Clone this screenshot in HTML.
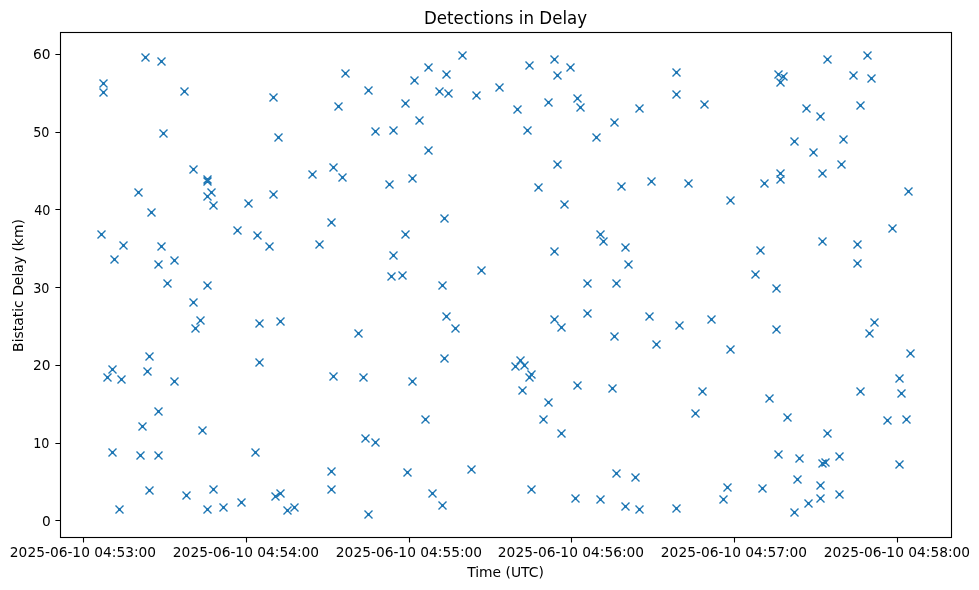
<!DOCTYPE html>
<html lang="en"><head><meta charset="utf-8"><title>Detections in Delay</title>
<style>html,body{margin:0;padding:0;background:#fff;}svg{display:block;}text{font-family:"DejaVu Sans","Liberation Sans",sans-serif;fill:#000;}</style></head><body>
<svg width="979" height="590" viewBox="0 0 979 590">
<rect x="0" y="0" width="979" height="590" fill="#fff"/>
<defs><clipPath id="c"><rect x="60.5" y="32.5" width="891.0" height="505.0"/></clipPath></defs>
<g clip-path="url(#c)"><path fill="none" stroke="#1f77b4" stroke-width="1.389" d="M141.5 53.5L149.5 61.5M141.5 61.5L149.5 53.5M157.5 57.5L165.5 65.5M157.5 65.5L165.5 57.5M99.5 79.5L107.5 87.5M99.5 87.5L107.5 79.5M99.5 88.5L107.5 96.5M99.5 96.5L107.5 88.5M180.5 87.5L188.5 95.5M180.5 95.5L188.5 87.5M159.5 129.5L167.5 137.5M159.5 137.5L167.5 129.5M269.5 93.5L277.5 101.5M269.5 101.5L277.5 93.5M274.5 133.5L282.5 141.5M274.5 141.5L282.5 133.5M341.5 69.5L349.5 77.5M341.5 77.5L349.5 69.5M334.5 102.5L342.5 110.5M334.5 110.5L342.5 102.5M364.5 86.5L372.5 94.5M364.5 94.5L372.5 86.5M371.5 127.5L379.5 135.5M371.5 135.5L379.5 127.5M389.5 126.5L397.5 134.5M389.5 134.5L397.5 126.5M401.5 99.5L409.5 107.5M401.5 107.5L409.5 99.5M410.5 76.5L418.5 84.5M410.5 84.5L418.5 76.5M415.5 116.5L423.5 124.5M415.5 124.5L423.5 116.5M424.5 63.5L432.5 71.5M424.5 71.5L432.5 63.5M458.5 51.5L466.5 59.5M458.5 59.5L466.5 51.5M442.5 70.5L450.5 78.5M442.5 78.5L450.5 70.5M435.5 87.5L443.5 95.5M435.5 95.5L443.5 87.5M444.5 89.5L452.5 97.5M444.5 97.5L452.5 89.5M472.5 91.5L480.5 99.5M472.5 99.5L480.5 91.5M495.5 83.5L503.5 91.5M495.5 91.5L503.5 83.5M513.5 105.5L521.5 113.5M513.5 113.5L521.5 105.5M523.5 126.5L531.5 134.5M523.5 134.5L531.5 126.5M525.5 61.5L533.5 69.5M525.5 69.5L533.5 61.5M544.5 98.5L552.5 106.5M544.5 106.5L552.5 98.5M550.5 55.5L558.5 63.5M550.5 63.5L558.5 55.5M553.5 71.5L561.5 79.5M553.5 79.5L561.5 71.5M566.5 63.5L574.5 71.5M566.5 71.5L574.5 63.5M573.5 94.5L581.5 102.5M573.5 102.5L581.5 94.5M576.5 103.5L584.5 111.5M576.5 111.5L584.5 103.5M592.5 133.5L600.5 141.5M592.5 141.5L600.5 133.5M610.5 118.5L618.5 126.5M610.5 126.5L618.5 118.5M635.5 104.5L643.5 112.5M635.5 112.5L643.5 104.5M672.5 68.5L680.5 76.5M672.5 76.5L680.5 68.5M672.5 90.5L680.5 98.5M672.5 98.5L680.5 90.5M700.5 100.5L708.5 108.5M700.5 108.5L708.5 100.5M774.5 70.5L782.5 78.5M774.5 78.5L782.5 70.5M779.5 72.5L787.5 80.5M779.5 80.5L787.5 72.5M776.5 78.5L784.5 86.5M776.5 86.5L784.5 78.5M823.5 55.5L831.5 63.5M823.5 63.5L831.5 55.5M863.5 51.5L871.5 59.5M863.5 59.5L871.5 51.5M849.5 71.5L857.5 79.5M849.5 79.5L857.5 71.5M867.5 74.5L875.5 82.5M867.5 82.5L875.5 74.5M802.5 104.5L810.5 112.5M802.5 112.5L810.5 104.5M816.5 112.5L824.5 120.5M816.5 120.5L824.5 112.5M856.5 101.5L864.5 109.5M856.5 109.5L864.5 101.5M790.5 137.5L798.5 145.5M790.5 145.5L798.5 137.5M839.5 135.5L847.5 143.5M839.5 143.5L847.5 135.5M189.5 165.5L197.5 173.5M189.5 173.5L197.5 165.5M203.5 175.5L211.5 183.5M203.5 183.5L211.5 175.5M203.5 177.5L211.5 185.5M203.5 185.5L211.5 177.5M207.5 188.5L215.5 196.5M207.5 196.5L215.5 188.5M203.5 192.5L211.5 200.5M203.5 200.5L211.5 192.5M209.5 201.5L217.5 209.5M209.5 209.5L217.5 201.5M134.5 188.5L142.5 196.5M134.5 196.5L142.5 188.5M147.5 208.5L155.5 216.5M147.5 216.5L155.5 208.5M97.5 230.5L105.5 238.5M97.5 238.5L105.5 230.5M119.5 241.5L127.5 249.5M119.5 249.5L127.5 241.5M157.5 242.5L165.5 250.5M157.5 250.5L165.5 242.5M233.5 226.5L241.5 234.5M233.5 234.5L241.5 226.5M244.5 199.5L252.5 207.5M244.5 207.5L252.5 199.5M424.5 146.5L432.5 154.5M424.5 154.5L432.5 146.5M329.5 163.5L337.5 171.5M329.5 171.5L337.5 163.5M308.5 170.5L316.5 178.5M308.5 178.5L316.5 170.5M338.5 173.5L346.5 181.5M338.5 181.5L346.5 173.5M385.5 180.5L393.5 188.5M385.5 188.5L393.5 180.5M408.5 174.5L416.5 182.5M408.5 182.5L416.5 174.5M269.5 190.5L277.5 198.5M269.5 198.5L277.5 190.5M253.5 231.5L261.5 239.5M253.5 239.5L261.5 231.5M265.5 242.5L273.5 250.5M265.5 250.5L273.5 242.5M327.5 218.5L335.5 226.5M327.5 226.5L335.5 218.5M315.5 240.5L323.5 248.5M315.5 248.5L323.5 240.5M401.5 230.5L409.5 238.5M401.5 238.5L409.5 230.5M553.5 160.5L561.5 168.5M553.5 168.5L561.5 160.5M534.5 183.5L542.5 191.5M534.5 191.5L542.5 183.5M560.5 200.5L568.5 208.5M560.5 208.5L568.5 200.5M440.5 214.5L448.5 222.5M440.5 222.5L448.5 214.5M596.5 230.5L604.5 238.5M596.5 238.5L604.5 230.5M599.5 237.5L607.5 245.5M599.5 245.5L607.5 237.5M617.5 182.5L625.5 190.5M617.5 190.5L625.5 182.5M647.5 177.5L655.5 185.5M647.5 185.5L655.5 177.5M684.5 179.5L692.5 187.5M684.5 187.5L692.5 179.5M726.5 196.5L734.5 204.5M726.5 204.5L734.5 196.5M760.5 179.5L768.5 187.5M760.5 187.5L768.5 179.5M776.5 169.5L784.5 177.5M776.5 177.5L784.5 169.5M776.5 175.5L784.5 183.5M776.5 183.5L784.5 175.5M621.5 243.5L629.5 251.5M621.5 251.5L629.5 243.5M756.5 246.5L764.5 254.5M756.5 254.5L764.5 246.5M809.5 148.5L817.5 156.5M809.5 156.5L817.5 148.5M837.5 160.5L845.5 168.5M837.5 168.5L845.5 160.5M818.5 169.5L826.5 177.5M818.5 177.5L826.5 169.5M904.5 187.5L912.5 195.5M904.5 195.5L912.5 187.5M888.5 224.5L896.5 232.5M888.5 232.5L896.5 224.5M818.5 237.5L826.5 245.5M818.5 245.5L826.5 237.5M853.5 240.5L861.5 248.5M853.5 248.5L861.5 240.5M110.5 255.5L118.5 263.5M110.5 263.5L118.5 255.5M154.5 260.5L162.5 268.5M154.5 268.5L162.5 260.5M170.5 256.5L178.5 264.5M170.5 264.5L178.5 256.5M163.5 279.5L171.5 287.5M163.5 287.5L171.5 279.5M203.5 281.5L211.5 289.5M203.5 289.5L211.5 281.5M189.5 298.5L197.5 306.5M189.5 306.5L197.5 298.5M196.5 316.5L204.5 324.5M196.5 324.5L204.5 316.5M191.5 324.5L199.5 332.5M191.5 332.5L199.5 324.5M389.5 251.5L397.5 259.5M389.5 259.5L397.5 251.5M387.5 272.5L395.5 280.5M387.5 280.5L395.5 272.5M398.5 271.5L406.5 279.5M398.5 279.5L406.5 271.5M255.5 319.5L263.5 327.5M255.5 327.5L263.5 319.5M276.5 317.5L284.5 325.5M276.5 325.5L284.5 317.5M354.5 329.5L362.5 337.5M354.5 337.5L362.5 329.5M550.5 247.5L558.5 255.5M550.5 255.5L558.5 247.5M477.5 266.5L485.5 274.5M477.5 274.5L485.5 266.5M438.5 281.5L446.5 289.5M438.5 289.5L446.5 281.5M583.5 279.5L591.5 287.5M583.5 287.5L591.5 279.5M442.5 312.5L450.5 320.5M442.5 320.5L450.5 312.5M451.5 324.5L459.5 332.5M451.5 332.5L459.5 324.5M550.5 315.5L558.5 323.5M550.5 323.5L558.5 315.5M557.5 323.5L565.5 331.5M557.5 331.5L565.5 323.5M583.5 309.5L591.5 317.5M583.5 317.5L591.5 309.5M624.5 260.5L632.5 268.5M624.5 268.5L632.5 260.5M612.5 279.5L620.5 287.5M612.5 287.5L620.5 279.5M751.5 270.5L759.5 278.5M751.5 278.5L759.5 270.5M772.5 284.5L780.5 292.5M772.5 292.5L780.5 284.5M645.5 312.5L653.5 320.5M645.5 320.5L653.5 312.5M675.5 321.5L683.5 329.5M675.5 329.5L683.5 321.5M707.5 315.5L715.5 323.5M707.5 323.5L715.5 315.5M610.5 332.5L618.5 340.5M610.5 340.5L618.5 332.5M652.5 340.5L660.5 348.5M652.5 348.5L660.5 340.5M726.5 345.5L734.5 353.5M726.5 353.5L734.5 345.5M772.5 325.5L780.5 333.5M772.5 333.5L780.5 325.5M853.5 259.5L861.5 267.5M853.5 267.5L861.5 259.5M870.5 318.5L878.5 326.5M870.5 326.5L878.5 318.5M865.5 329.5L873.5 337.5M865.5 337.5L873.5 329.5M906.5 349.5L914.5 357.5M906.5 357.5L914.5 349.5M145.5 352.5L153.5 360.5M145.5 360.5L153.5 352.5M108.5 365.5L116.5 373.5M108.5 373.5L116.5 365.5M103.5 373.5L111.5 381.5M103.5 381.5L111.5 373.5M117.5 375.5L125.5 383.5M117.5 383.5L125.5 375.5M143.5 367.5L151.5 375.5M143.5 375.5L151.5 367.5M170.5 377.5L178.5 385.5M170.5 385.5L178.5 377.5M154.5 407.5L162.5 415.5M154.5 415.5L162.5 407.5M138.5 422.5L146.5 430.5M138.5 430.5L146.5 422.5M198.5 426.5L206.5 434.5M198.5 434.5L206.5 426.5M108.5 448.5L116.5 456.5M108.5 456.5L116.5 448.5M136.5 451.5L144.5 459.5M136.5 459.5L144.5 451.5M154.5 451.5L162.5 459.5M154.5 459.5L162.5 451.5M255.5 358.5L263.5 366.5M255.5 366.5L263.5 358.5M329.5 372.5L337.5 380.5M329.5 380.5L337.5 372.5M359.5 373.5L367.5 381.5M359.5 381.5L367.5 373.5M408.5 377.5L416.5 385.5M408.5 385.5L416.5 377.5M421.5 415.5L429.5 423.5M421.5 423.5L429.5 415.5M361.5 434.5L369.5 442.5M361.5 442.5L369.5 434.5M371.5 438.5L379.5 446.5M371.5 446.5L379.5 438.5M251.5 448.5L259.5 456.5M251.5 456.5L259.5 448.5M440.5 354.5L448.5 362.5M440.5 362.5L448.5 354.5M516.5 356.5L524.5 364.5M516.5 364.5L524.5 356.5M511.5 362.5L519.5 370.5M511.5 370.5L519.5 362.5M520.5 361.5L528.5 369.5M520.5 369.5L528.5 361.5M527.5 370.5L535.5 378.5M527.5 378.5L535.5 370.5M525.5 373.5L533.5 381.5M525.5 381.5L533.5 373.5M518.5 386.5L526.5 394.5M518.5 394.5L526.5 386.5M544.5 398.5L552.5 406.5M544.5 406.5L552.5 398.5M539.5 415.5L547.5 423.5M539.5 423.5L547.5 415.5M557.5 429.5L565.5 437.5M557.5 437.5L565.5 429.5M573.5 381.5L581.5 389.5M573.5 389.5L581.5 381.5M608.5 384.5L616.5 392.5M608.5 392.5L616.5 384.5M698.5 387.5L706.5 395.5M698.5 395.5L706.5 387.5M691.5 409.5L699.5 417.5M691.5 417.5L699.5 409.5M765.5 394.5L773.5 402.5M765.5 402.5L773.5 394.5M783.5 413.5L791.5 421.5M783.5 421.5L791.5 413.5M774.5 450.5L782.5 458.5M774.5 458.5L782.5 450.5M895.5 374.5L903.5 382.5M895.5 382.5L903.5 374.5M897.5 389.5L905.5 397.5M897.5 397.5L905.5 389.5M856.5 387.5L864.5 395.5M856.5 395.5L864.5 387.5M883.5 416.5L891.5 424.5M883.5 424.5L891.5 416.5M902.5 415.5L910.5 423.5M902.5 423.5L910.5 415.5M823.5 429.5L831.5 437.5M823.5 437.5L831.5 429.5M145.5 486.5L153.5 494.5M145.5 494.5L153.5 486.5M115.5 505.5L123.5 513.5M115.5 513.5L123.5 505.5M182.5 491.5L190.5 499.5M182.5 499.5L190.5 491.5M209.5 485.5L217.5 493.5M209.5 493.5L217.5 485.5M203.5 505.5L211.5 513.5M203.5 513.5L211.5 505.5M219.5 503.5L227.5 511.5M219.5 511.5L227.5 503.5M237.5 498.5L245.5 506.5M237.5 506.5L245.5 498.5M271.5 492.5L279.5 500.5M271.5 500.5L279.5 492.5M276.5 489.5L284.5 497.5M276.5 497.5L284.5 489.5M283.5 506.5L291.5 514.5M283.5 514.5L291.5 506.5M290.5 503.5L298.5 511.5M290.5 511.5L298.5 503.5M327.5 467.5L335.5 475.5M327.5 475.5L335.5 467.5M327.5 485.5L335.5 493.5M327.5 493.5L335.5 485.5M364.5 510.5L372.5 518.5M364.5 518.5L372.5 510.5M403.5 468.5L411.5 476.5M403.5 476.5L411.5 468.5M428.5 489.5L436.5 497.5M428.5 497.5L436.5 489.5M438.5 501.5L446.5 509.5M438.5 509.5L446.5 501.5M467.5 465.5L475.5 473.5M467.5 473.5L475.5 465.5M527.5 485.5L535.5 493.5M527.5 493.5L535.5 485.5M571.5 494.5L579.5 502.5M571.5 502.5L579.5 494.5M596.5 495.5L604.5 503.5M596.5 503.5L604.5 495.5M612.5 469.5L620.5 477.5M612.5 477.5L620.5 469.5M631.5 473.5L639.5 481.5M631.5 481.5L639.5 473.5M621.5 502.5L629.5 510.5M621.5 510.5L629.5 502.5M635.5 505.5L643.5 513.5M635.5 513.5L643.5 505.5M672.5 504.5L680.5 512.5M672.5 512.5L680.5 504.5M719.5 495.5L727.5 503.5M719.5 503.5L727.5 495.5M723.5 483.5L731.5 491.5M723.5 491.5L731.5 483.5M758.5 484.5L766.5 492.5M758.5 492.5L766.5 484.5M795.5 454.5L803.5 462.5M795.5 462.5L803.5 454.5M835.5 452.5L843.5 460.5M835.5 460.5L843.5 452.5M818.5 459.5L826.5 467.5M818.5 467.5L826.5 459.5M821.5 458.5L829.5 466.5M821.5 466.5L829.5 458.5M895.5 460.5L903.5 468.5M895.5 468.5L903.5 460.5M793.5 475.5L801.5 483.5M793.5 483.5L801.5 475.5M816.5 481.5L824.5 489.5M816.5 489.5L824.5 481.5M816.5 494.5L824.5 502.5M816.5 502.5L824.5 494.5M835.5 490.5L843.5 498.5M835.5 498.5L843.5 490.5M804.5 499.5L812.5 507.5M804.5 507.5L812.5 499.5M790.5 508.5L798.5 516.5M790.5 516.5L798.5 508.5"/><path fill="#1f77b4" stroke="none" d="M144 56h3v3h-3zM160 60h3v3h-3zM102 82h3v3h-3zM102 91h3v3h-3zM183 90h3v3h-3zM162 132h3v3h-3zM272 96h3v3h-3zM277 136h3v3h-3zM344 72h3v3h-3zM337 105h3v3h-3zM367 89h3v3h-3zM374 130h3v3h-3zM392 129h3v3h-3zM404 102h3v3h-3zM413 79h3v3h-3zM418 119h3v3h-3zM427 66h3v3h-3zM461 54h3v3h-3zM445 73h3v3h-3zM438 90h3v3h-3zM447 92h3v3h-3zM475 94h3v3h-3zM498 86h3v3h-3zM516 108h3v3h-3zM526 129h3v3h-3zM528 64h3v3h-3zM547 101h3v3h-3zM553 58h3v3h-3zM556 74h3v3h-3zM569 66h3v3h-3zM576 97h3v3h-3zM579 106h3v3h-3zM595 136h3v3h-3zM613 121h3v3h-3zM638 107h3v3h-3zM675 71h3v3h-3zM675 93h3v3h-3zM703 103h3v3h-3zM777 73h3v3h-3zM782 75h3v3h-3zM779 81h3v3h-3zM826 58h3v3h-3zM866 54h3v3h-3zM852 74h3v3h-3zM870 77h3v3h-3zM805 107h3v3h-3zM819 115h3v3h-3zM859 104h3v3h-3zM793 140h3v3h-3zM842 138h3v3h-3zM192 168h3v3h-3zM206 178h3v3h-3zM206 180h3v3h-3zM210 191h3v3h-3zM206 195h3v3h-3zM212 204h3v3h-3zM137 191h3v3h-3zM150 211h3v3h-3zM100 233h3v3h-3zM122 244h3v3h-3zM160 245h3v3h-3zM236 229h3v3h-3zM247 202h3v3h-3zM427 149h3v3h-3zM332 166h3v3h-3zM311 173h3v3h-3zM341 176h3v3h-3zM388 183h3v3h-3zM411 177h3v3h-3zM272 193h3v3h-3zM256 234h3v3h-3zM268 245h3v3h-3zM330 221h3v3h-3zM318 243h3v3h-3zM404 233h3v3h-3zM556 163h3v3h-3zM537 186h3v3h-3zM563 203h3v3h-3zM443 217h3v3h-3zM599 233h3v3h-3zM602 240h3v3h-3zM620 185h3v3h-3zM650 180h3v3h-3zM687 182h3v3h-3zM729 199h3v3h-3zM763 182h3v3h-3zM779 172h3v3h-3zM779 178h3v3h-3zM624 246h3v3h-3zM759 249h3v3h-3zM812 151h3v3h-3zM840 163h3v3h-3zM821 172h3v3h-3zM907 190h3v3h-3zM891 227h3v3h-3zM821 240h3v3h-3zM856 243h3v3h-3zM113 258h3v3h-3zM157 263h3v3h-3zM173 259h3v3h-3zM166 282h3v3h-3zM206 284h3v3h-3zM192 301h3v3h-3zM199 319h3v3h-3zM194 327h3v3h-3zM392 254h3v3h-3zM390 275h3v3h-3zM401 274h3v3h-3zM258 322h3v3h-3zM279 320h3v3h-3zM357 332h3v3h-3zM553 250h3v3h-3zM480 269h3v3h-3zM441 284h3v3h-3zM586 282h3v3h-3zM445 315h3v3h-3zM454 327h3v3h-3zM553 318h3v3h-3zM560 326h3v3h-3zM586 312h3v3h-3zM627 263h3v3h-3zM615 282h3v3h-3zM754 273h3v3h-3zM775 287h3v3h-3zM648 315h3v3h-3zM678 324h3v3h-3zM710 318h3v3h-3zM613 335h3v3h-3zM655 343h3v3h-3zM729 348h3v3h-3zM775 328h3v3h-3zM856 262h3v3h-3zM873 321h3v3h-3zM868 332h3v3h-3zM909 352h3v3h-3zM148 355h3v3h-3zM111 368h3v3h-3zM106 376h3v3h-3zM120 378h3v3h-3zM146 370h3v3h-3zM173 380h3v3h-3zM157 410h3v3h-3zM141 425h3v3h-3zM201 429h3v3h-3zM111 451h3v3h-3zM139 454h3v3h-3zM157 454h3v3h-3zM258 361h3v3h-3zM332 375h3v3h-3zM362 376h3v3h-3zM411 380h3v3h-3zM424 418h3v3h-3zM364 437h3v3h-3zM374 441h3v3h-3zM254 451h3v3h-3zM443 357h3v3h-3zM519 359h3v3h-3zM514 365h3v3h-3zM523 364h3v3h-3zM530 373h3v3h-3zM528 376h3v3h-3zM521 389h3v3h-3zM547 401h3v3h-3zM542 418h3v3h-3zM560 432h3v3h-3zM576 384h3v3h-3zM611 387h3v3h-3zM701 390h3v3h-3zM694 412h3v3h-3zM768 397h3v3h-3zM786 416h3v3h-3zM777 453h3v3h-3zM898 377h3v3h-3zM900 392h3v3h-3zM859 390h3v3h-3zM886 419h3v3h-3zM905 418h3v3h-3zM826 432h3v3h-3zM148 489h3v3h-3zM118 508h3v3h-3zM185 494h3v3h-3zM212 488h3v3h-3zM206 508h3v3h-3zM222 506h3v3h-3zM240 501h3v3h-3zM274 495h3v3h-3zM279 492h3v3h-3zM286 509h3v3h-3zM293 506h3v3h-3zM330 470h3v3h-3zM330 488h3v3h-3zM367 513h3v3h-3zM406 471h3v3h-3zM431 492h3v3h-3zM441 504h3v3h-3zM470 468h3v3h-3zM530 488h3v3h-3zM574 497h3v3h-3zM599 498h3v3h-3zM615 472h3v3h-3zM634 476h3v3h-3zM624 505h3v3h-3zM638 508h3v3h-3zM675 507h3v3h-3zM722 498h3v3h-3zM726 486h3v3h-3zM761 487h3v3h-3zM798 457h3v3h-3zM838 455h3v3h-3zM821 462h3v3h-3zM824 461h3v3h-3zM898 463h3v3h-3zM796 478h3v3h-3zM819 484h3v3h-3zM819 497h3v3h-3zM838 493h3v3h-3zM807 502h3v3h-3zM793 511h3v3h-3z"/></g>
<path fill="none" stroke="#000" stroke-width="1.111" d="M55.40 54.5H60.5M55.40 132.5H60.5M55.40 209.5H60.5M55.40 287.5H60.5M55.40 365.5H60.5M55.40 443.5H60.5M55.40 520.5H60.5M83.5 537.5V542.60M246.5 537.5V542.60M409.5 537.5V542.60M571.5 537.5V542.60M734.5 537.5V542.60M897.5 537.5V542.60"/>
<rect x="60.5" y="32.5" width="891.0" height="505.0" fill="none" stroke="#000" stroke-width="1.111" stroke-linejoin="miter"/>
<text transform="translate(50.5 59) scale(0.99 1)" font-size="13.889" text-anchor="end">60</text>
<text transform="translate(49.5 137) scale(0.92 1)" font-size="13.889" text-anchor="end">50</text>
<text transform="translate(50.5 215) scale(0.92 1)" font-size="13.889" text-anchor="end">40</text>
<text transform="translate(49.5 293) scale(0.92 1)" font-size="13.889" text-anchor="end">30</text>
<text transform="translate(50.5 370) scale(0.99 1)" font-size="13.889" text-anchor="end">20</text>
<text transform="translate(49.5 448) scale(0.92 1)" font-size="13.889" text-anchor="end">10</text>
<text transform="translate(50.75 526) scale(0.99 1)" font-size="13.889" text-anchor="end">0</text>
<text transform="translate(83.0 557) scale(0.992 1)" font-size="13.889" text-anchor="middle">2025-06-10 04:53:00</text>
<text transform="translate(246.0 557) scale(0.992 1)" font-size="13.889" text-anchor="middle">2025-06-10 04:54:00</text>
<text transform="translate(409.0 557) scale(0.992 1)" font-size="13.889" text-anchor="middle">2025-06-10 04:55:00</text>
<text transform="translate(571.0 557) scale(0.992 1)" font-size="13.889" text-anchor="middle">2025-06-10 04:56:00</text>
<text transform="translate(734.0 557) scale(0.992 1)" font-size="13.889" text-anchor="middle">2025-06-10 04:57:00</text>
<text transform="translate(897.0 557) scale(0.992 1)" font-size="13.889" text-anchor="middle">2025-06-10 04:58:00</text>
<text x="505.5" y="576.8" font-size="13.889" text-anchor="middle">Time (UTC)</text>
<text transform="translate(23.4 285.5) rotate(-90) scale(1.003 1)" font-size="13.889" text-anchor="middle">Bistatic Delay (km)</text>
<text transform="translate(505.5 23.76) scale(1 1.09)" font-size="16.667" text-anchor="middle">Detections in Delay</text>
</svg></body></html>
